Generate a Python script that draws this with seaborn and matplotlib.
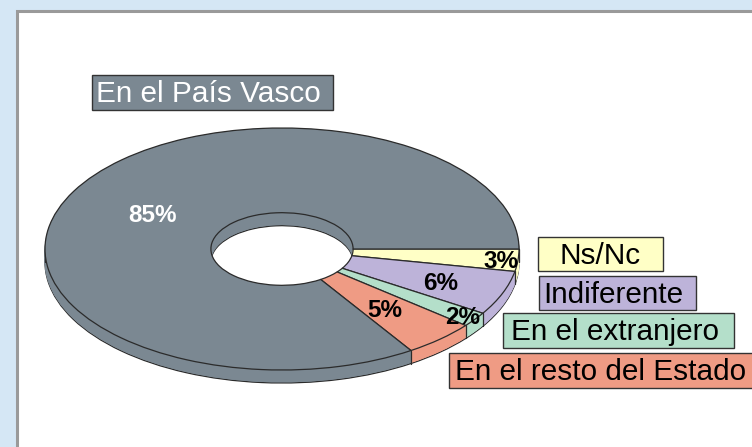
import numpy as np
import matplotlib.pyplot as plt
import seaborn as sns
from matplotlib.patches import Rectangle
from matplotlib.transforms import Affine2D

categories = ['Ns/Nc', 'Indiferente', 'En el extranjero', 'En el resto del Estado', 'En el País Vasco']
shares = [3, 6, 2, 5, 85]
pct_labels = ['3%', '6%', '2%', '5%', '85%']
slice_colors = ['#ffffc6', '#bdb3d9', '#b4dfca', '#ef9b84', '#7b8892']

sns.set_style('white')
plt.rcParams['font.family'] = ['Liberation Sans', 'DejaVu Sans']

fig = plt.figure(figsize=(7.52, 4.47), dpi=100, facecolor='#d5e7f5')
ax = fig.add_axes([0, 0, 1, 1])
ax.axis('off')

# white panel with grey border (pixel units, y up)
ax.add_patch(Rectangle((16.5, -480), 800, 469.5, facecolor='white',
                       edgecolor='#9a9a9a', lw=2.2, zorder=0))

cx, cy = 282, -249
a = 237
tilt = 121 / 237
depth = 13
hole = 0.30


def layer(off, edge, z):
    wedges, _ = ax.pie(shares, colors=slice_colors, startangle=0, counterclock=False,
                       radius=a, frame=True,
                       wedgeprops=dict(width=a * (1 - hole), edgecolor='#2b2b2b',
                                       linewidth=0.9 if edge else 0.6))
    tr = Affine2D().scale(1, tilt).translate(cx, cy - off) + ax.transData
    for w in wedges:
        w.set_transform(tr)
        w.set_zorder(z)
        if not edge:
            w.set_edgecolor(w.get_facecolor())


# extruded body: bottom outline, filler layers, then top face
layer(depth, True, 1)
for off in range(depth - 1, 0, -1):
    layer(off, False, 1)

bounds = np.cumsum([0] + shares) / sum(shares) * 360
for t in np.deg2rad(-bounds):
    if np.sin(t) < -1e-6:
        x0 = cx + a * np.cos(t)
        y0 = cy + a * tilt * np.sin(t)
        ax.plot([x0, x0], [y0, y0 - depth], color='#2b2b2b', lw=0.9, zorder=1.5)
for x0 in (cx - a, cx + a):
    ax.plot([x0, x0], [cy, cy - depth], color='#2b2b2b', lw=0.9, zorder=1.5)

layer(0, True, 2)

# percentage labels
mids = np.deg2rad(-(bounds[:-1] + bounds[1:]) / 2)
label_r = [0.93, 0.72, 0.94, 0.65, 0.62]
label_c = ['black', 'black', 'black', 'black', 'white']
for t, r, txt, c in zip(mids, label_r, pct_labels, label_c):
    ax.text(cx + r * a * np.cos(t), cy + r * a * tilt * np.sin(t), txt,
            ha='center', va='center_baseline', fontsize=17.5, fontweight='bold',
            color=c, zorder=5)

# category boxes (pixel boxes: x0, y0, x1, y1 from top)
boxes = [(538, 237, 663, 271), (539, 276, 696, 310), (503, 313, 734, 348),
         (449, 353, 790, 388), (92, 75, 333, 110)]
text_x = [560, 543, 511, 455, 96]
text_c = ['black', 'black', 'black', 'black', 'white']
for name, (x0, y0, x1, y1), tx, col, tc in zip(categories, boxes, text_x, slice_colors, text_c):
    ax.add_patch(Rectangle((x0, -y1), x1 - x0, y1 - y0, facecolor=col,
                           edgecolor='#333333', lw=1, zorder=3))
    ax.text(tx, -(y0 + y1) / 2 + 1, name, ha='left', va='center_baseline',
            fontsize=21.4, color=tc, zorder=4)

ax.set_xlim(0, 752)
ax.set_ylim(-447, 0)
ax.set_aspect('auto')

fig.savefig('out.png', dpi=100, facecolor=fig.get_facecolor())
